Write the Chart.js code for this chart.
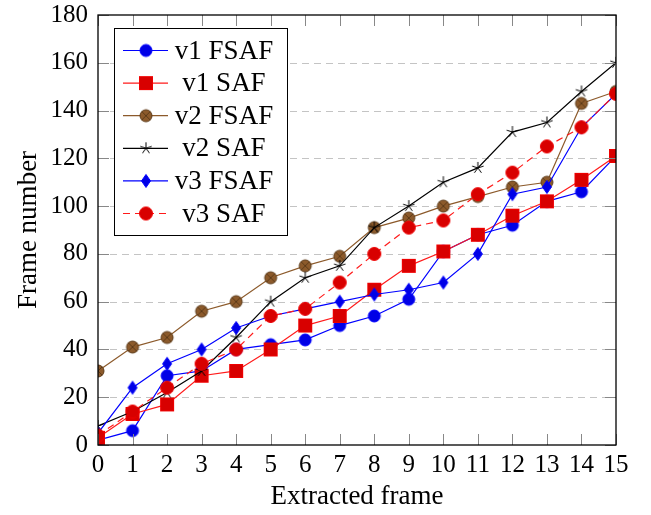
<!DOCTYPE html>
<html>
<head>
<meta charset="utf-8">
<script src="https://cdn.jsdelivr.net/npm/chart.js@4"></script>
<style>
  body { margin: 0; background: #fff; }
  canvas { display: block; }
</style>
</head>
<body>
<canvas id="chart" width="651" height="515"></canvas>
<script>
// data
const frames = [0, 1, 2, 3, 4, 5, 6, 7, 8, 9, 10, 11, 12, 13, 14, 15];
const v1Fsaf = [2, 6, 29, 31, 40, 42, 44, 50, 54, 61, 81, 88, 92, 102, 106, 121];
const v1Saf  = [3, 13, 17, 29, 31, 40, 50, 54, 65, 75, 81, 88, 96, 102, 111, 121];
const v2Fsaf = [31, 41, 45, 56, 60, 70, 75, 79, 91, 95, 100, 104, 108, 110, 143, 148];
const v2Saf  = [8, 14, 22, 31, 45, 60, 70, 75, 91, 100, 110, 116, 131, 135, 148, 160];
const v3Fsaf = [5, 24, 34, 40, 49, 54, 57, 60, 63, 65, 68, 80, 105, 108, 133, 147];
const v3Saf  = [4, 14, 24, 34, 40, 54, 57, 68, 80, 91, 94, 105, 114, 125, 133, 147];
const seriesNames = ['v1 FSAF', 'v1 SAF', 'v2 FSAF', 'v2 SAF', 'v3 FSAF', 'v3 SAF'];
const yTicks = [0, 20, 40, 60, 80, 100, 120, 140, 160, 180];

const FONT = "'Liberation Serif', 'Times New Roman', serif";

// little canvases used as point markers (and again in the legend)
function marker(draw) {
  const c = document.createElement('canvas');
  c.width = 16; c.height = 16;
  const g = c.getContext('2d');
  g.translate(8, 8);
  draw(g);
  return c;
}
const circle = (fill, stroke, r) => marker(g => {
  g.beginPath(); g.arc(0, 0, r, 0, Math.PI * 2);
  g.fillStyle = fill; g.fill();
  g.lineWidth = 1; g.strokeStyle = stroke; g.stroke();
});
const mBlueCircle = circle('#0000e6', '#0000ff', 6);
const mRedCircle = circle('#d80000', '#f00000', 6.5);
const mRedSquare = marker(g => {
  g.fillStyle = '#d80000'; g.fillRect(-6.5, -6.5, 13, 13);
  g.lineWidth = 1; g.strokeStyle = '#f00000'; g.strokeRect(-6.5, -6.5, 13, 13);
});
const mBrown = marker(g => {
  g.beginPath(); g.arc(0, 0, 6, 0, Math.PI * 2);
  g.fillStyle = '#8c5a2b'; g.fill();
  g.lineWidth = 1; g.strokeStyle = '#5c3a18'; g.stroke();
  const d = 6 * Math.SQRT1_2;
  g.beginPath();
  g.moveTo(-d, -d); g.lineTo(d, d);
  g.moveTo(-d, d); g.lineTo(d, -d);
  g.stroke();
});
const mStar = marker(g => {
  g.strokeStyle = '#000'; g.lineWidth = 1;
  g.beginPath();
  for (let k = 0; k < 5; k++) {
    const a = -Math.PI / 2 + k * 2 * Math.PI / 5;
    g.moveTo(0, 0); g.lineTo(6 * Math.cos(a), 6 * Math.sin(a));
  }
  g.stroke();
});
const mDiamond = marker(g => {
  g.beginPath();
  g.moveTo(0, -6.5); g.lineTo(4.5, 0); g.lineTo(0, 6.5); g.lineTo(-4.5, 0);
  g.closePath();
  g.fillStyle = '#0000e6'; g.fill();
  g.lineWidth = 1; g.strokeStyle = '#0000ff'; g.stroke();
});

const lineColors = ['#0000ff', '#ff1a1a', '#8c5a2b', '#000000', '#0000ff', '#ff1a1a'];
const markers = [mBlueCircle, mRedSquare, mBrown, mStar, mDiamond, mRedCircle];
const dashes = [[], [], [], [], [], [7, 5]];
const allValues = [v1Fsaf, v1Saf, v2Fsaf, v2Saf, v3Fsaf, v3Saf];

const datasets = allValues.map((vals, i) => ({
  label: seriesNames[i],
  data: frames.map((x, j) => ({ x: x, y: vals[j] })),
  borderColor: lineColors[i],
  borderWidth: 1.2,
  borderDash: dashes[i],
  pointStyle: markers[i],
  pointRadius: 7,
  pointHoverRadius: 7,
  fill: false,
  tension: 0,
  order: 6 - i   // later series drawn on top, like pgfplots
}));

// dashed horizontal grid under the data
const gridPlugin = {
  id: 'dashgrid',
  beforeDatasetsDraw(chart) {
    const { ctx, chartArea: a, scales } = chart;
    ctx.save();
    ctx.strokeStyle = '#c4c4c4';
    ctx.lineWidth = 1;
    ctx.setLineDash([7, 5]);
    ctx.beginPath();
    yTicks.slice(1, -1).forEach(v => {
      const y = Math.round(scales.y.getPixelForValue(v)) + 0.5;
      ctx.moveTo(a.left, y); ctx.lineTo(a.right, y);
    });
    ctx.stroke();
    ctx.restore();
  }
};

// axis box, inward ticks and the boxed legend
const framePlugin = {
  id: 'frame',
  afterDatasetsDraw(chart) {
    const { ctx, chartArea: a, scales } = chart;
    ctx.save();
    ctx.strokeStyle = '#888';
    ctx.lineWidth = 1;
    ctx.beginPath();
    frames.forEach(v => {
      const x = Math.round(scales.x.getPixelForValue(v)) + 0.5;
      ctx.moveTo(x, a.bottom); ctx.lineTo(x, a.bottom - 11);
      ctx.moveTo(x, a.top); ctx.lineTo(x, a.top + 11);
    });
    yTicks.forEach(v => {
      const y = Math.round(scales.y.getPixelForValue(v)) + 0.5;
      ctx.moveTo(a.left, y); ctx.lineTo(a.left + 11, y);
      ctx.moveTo(a.right, y); ctx.lineTo(a.right - 11, y);
    });
    ctx.stroke();

    ctx.strokeStyle = '#000';
    ctx.lineWidth = 1.3;
    ctx.strokeRect(a.left, a.top, a.right - a.left, a.bottom - a.top);

    // legend
    const lx = 114, ly = 28, lw = 173, lh = 207;
    ctx.fillStyle = '#fff';
    ctx.fillRect(lx, ly, lw, lh);
    ctx.lineWidth = 1;
    ctx.strokeStyle = '#000';
    ctx.strokeRect(lx + 0.5, ly + 0.5, lw, lh);
    ctx.font = '27px ' + FONT;
    ctx.textAlign = 'center';
    ctx.textBaseline = 'middle';
    seriesNames.forEach((name, i) => {
      const y = 50.5 + i * 32.6;
      ctx.beginPath();
      ctx.setLineDash(dashes[i]);
      ctx.strokeStyle = lineColors[i];
      ctx.lineWidth = 1.2;
      ctx.moveTo(123, y); ctx.lineTo(168, y);
      ctx.stroke();
      ctx.setLineDash([]);
      ctx.drawImage(markers[i], 146 - 8, y - 8);
      ctx.fillStyle = '#000';
      ctx.fillText(name, 224, y + 1);
    });
    ctx.restore();
  }
};

new Chart(document.getElementById('chart').getContext('2d'), {
  type: 'line',
  data: { datasets: datasets },
  options: {
    responsive: false,
    animation: false,
    layout: { padding: { top: 15, right: 35, left: 0, bottom: 0 } },
    plugins: { legend: { display: false }, tooltip: { enabled: false } },
    scales: {
      x: {
        type: 'linear',
        min: 0, max: 15,
        afterFit: s => { s.height = 70; s.paddingLeft = 0; s.paddingRight = 0; },
        afterBuildTicks: s => { s.ticks = frames.map(v => ({ value: v })); },
        grid: { display: false, drawTicks: false },
        border: { display: false },
        ticks: { color: '#000', font: { family: FONT, size: 25 }, padding: 5, maxRotation: 0, autoSkip: false },
        title: { display: true, text: 'Extracted frame', color: '#000', font: { family: FONT, size: 27 }, padding: { top: 0, bottom: 2 } }
      },
      y: {
        min: 0, max: 180,
        afterFit: s => { s.width = 98; s.paddingTop = 0; s.paddingBottom = 0; },
        afterBuildTicks: s => { s.ticks = yTicks.map(v => ({ value: v })); },
        grid: { display: false, drawTicks: false },
        border: { display: false },
        ticks: { color: '#000', font: { family: FONT, size: 25 }, padding: 10 },
        title: { display: true, text: 'Frame number', color: '#000', font: { family: FONT, size: 27 }, padding: { top: 13, bottom: 0 } }
      }
    }
  },
  plugins: [gridPlugin, framePlugin]
});
</script>
</body>
</html>
